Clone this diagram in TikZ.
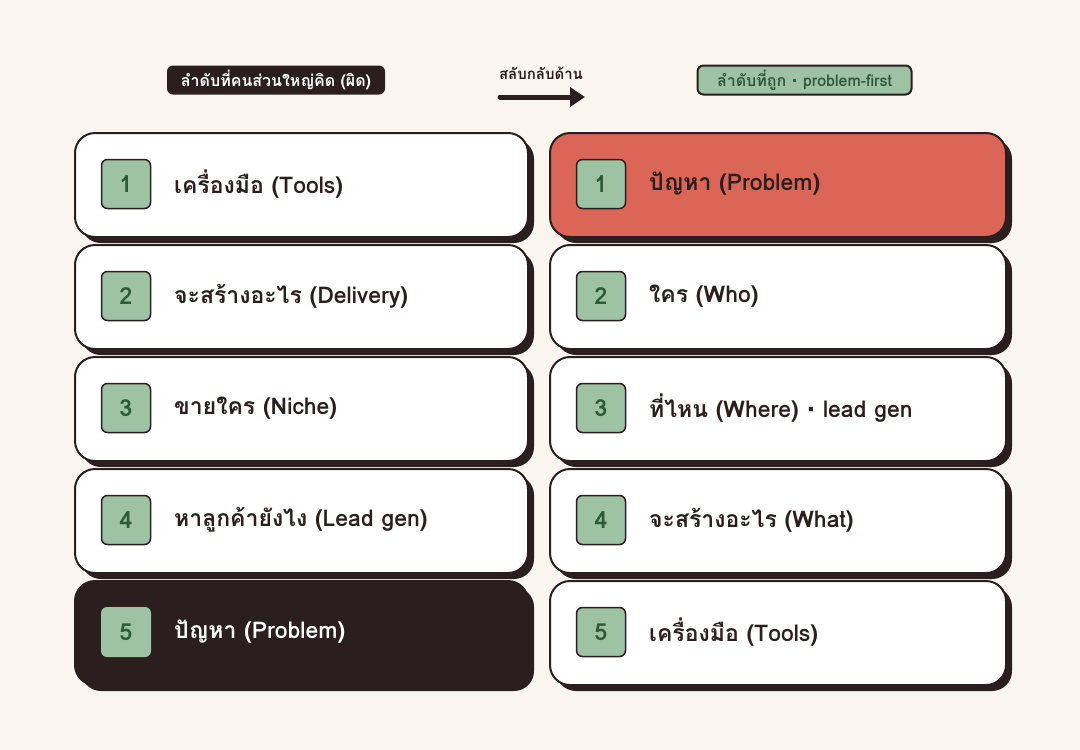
\documentclass[tikz,border=0pt]{standalone}
\usepackage{fontspec}
\newfontfamily\thai[Script=Thai]{Loma}
\newfontfamily\dotf{DejaVu Sans}
\newcommand{\mdot}{{\dotf\bfseries ·}}
\usetikzlibrary{shadows,arrows.meta}
\definecolor{bg}{HTML}{FAF5EF}
\definecolor{dk}{HTML}{2A1F1E}
\definecolor{rd}{HTML}{DB6658}
\definecolor{gr}{HTML}{9DC3A4}
\definecolor{gt}{HTML}{2F5A3A}
\begin{document}
\begin{tikzpicture}[x=1pt,y=-1pt,
  card/.style={draw=dk, line width=2pt, rounded corners=20pt, minimum height=104pt,
    fill=white, general shadow={fill=dk, shadow xshift=6pt, shadow yshift=-6pt},
    anchor=north west, inner sep=0pt},
  lcard/.style={card, minimum width=453pt},
  rcard/.style={card, minimum width=456pt},
  badge/.style={draw=dk, line width=1.5pt, fill=gr, rounded corners=6pt, minimum size=49pt,
    inner sep=0pt, text=gt, font=\thai\bfseries\fontsize{23.5}{26}\selectfont},
  lbl/.style={anchor=west, inner sep=0pt, text=dk, font=\thai\bfseries\fontsize{23}{27}\selectfont},
  pill/.style={rounded corners=6pt, minimum height=29pt, inner sep=0pt,
    font=\thai\bfseries\fontsize{16}{18}\selectfont}]
\fill[bg] (0,0) rectangle (1080,750);
\useasboundingbox (0,0) rectangle (1080,750);
% header
\node[pill, fill=dk, text=white, minimum width=218pt] (hl) at (276,80) {ลำดับที่คนส่วนใหญ่คิด (ผิด)};
\node[pill, fill=gr, draw=dk, line width=2pt, text=gt, minimum width=214pt] (hr) at (804.5,80) {ลำดับที่ถูก \mdot{} problem-first};
\node[text=dk, inner sep=0pt, font=\thai\bfseries\fontsize{15}{17}\selectfont] (ht) at (541,73) {สลับกลับด้าน};
\coordinate (a1) at (500,97);
\coordinate (a2) at (585,97);
\draw[dk, line width=5pt, line cap=round, -{Triangle[length=15pt,width=19pt]}] (a1) -- (a2);
% left column
\node[lcard] (l1) at (74,132) {};
\node[badge] (lb1) at (126,184) {1};
\node[lbl] (lt1) at (174,184) {เครื่องมือ (Tools)};
\node[lcard] (l2) at (74,244) {};
\node[badge] (lb2) at (126,296) {2};
\node[lbl] (lt2) at (174,296) {จะสร้างอะไร (Delivery)};
\node[lcard] (l3) at (74,356) {};
\node[badge] (lb3) at (126,408) {3};
\node[lbl] (lt3) at (174,408) {ขายใคร (Niche)};
\node[lcard] (l4) at (74,468) {};
\node[badge] (lb4) at (126,520) {4};
\node[lbl] (lt4) at (174,520) {หาลูกค้ายังไง (Lead gen)};
\node[lcard, fill=dk] (l5) at (74,580) {};
\node[badge, draw=none, minimum size=50pt] (lb5) at (126,632) {5};
\node[lbl, text=white] (lt5) at (174,632) {ปัญหา (Problem)};
% right column
\node[rcard, fill=rd] (r1) at (549,132) {};
\node[badge] (rb1) at (601,184) {1};
\node[lbl] (rt1) at (649,184) {ปัญหา (Problem)};
\node[rcard] (r2) at (549,244) {};
\node[badge] (rb2) at (601,296) {2};
\node[lbl] (rt2) at (649,296) {ใคร (Who)};
\node[rcard] (r3) at (549,356) {};
\node[badge] (rb3) at (601,408) {3};
\node[lbl] (rt3) at (649,408) {ที่ไหน (Where) \mdot{} lead gen};
\node[rcard] (r4) at (549,468) {};
\node[badge] (rb4) at (601,520) {4};
\node[lbl] (rt4) at (649,520) {จะสร้างอะไร (What)};
\node[rcard] (r5) at (549,580) {};
\node[badge] (rb5) at (601,632) {5};
\node[lbl] (rt5) at (649,632) {เครื่องมือ (Tools)};
\end{tikzpicture}
\end{document}
